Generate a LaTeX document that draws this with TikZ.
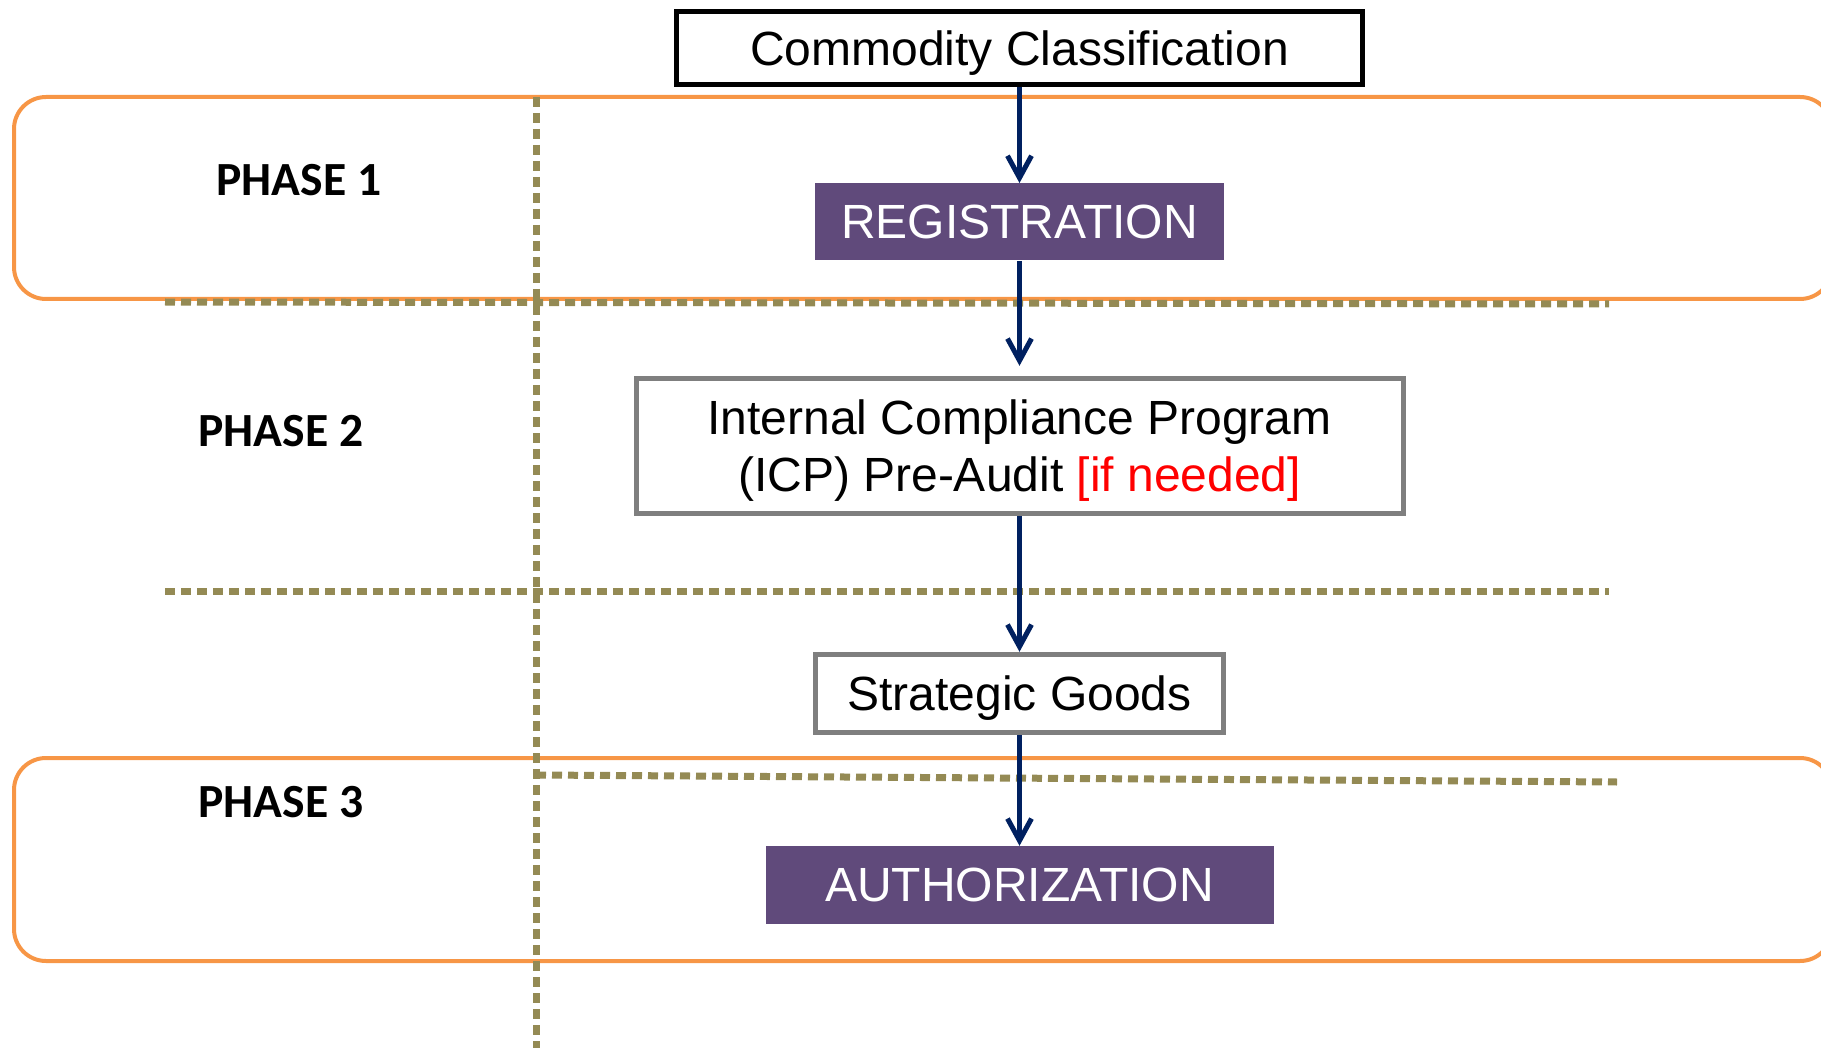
\documentclass[tikz,border=0pt]{standalone}
\usepackage{fontspec}
\setmainfont{Liberation Sans}
\newfontfamily\phasefont{Carlito}
\usetikzlibrary{arrows.meta, positioning}

\definecolor{phaseorange}{HTML}{F79646}
\definecolor{dotolive}{HTML}{948A54}
\definecolor{stagepurple}{HTML}{604A7B}
\definecolor{arrownavy}{HTML}{002060}
\definecolor{boxgray}{HTML}{7F7F7F}

\begin{document}
\begin{tikzpicture}[x=0.5pt, y=-0.5pt,
				block/.style={rectangle, draw, fill=white, align=center, line width=2.5pt, inner sep=0pt,
						text depth=0pt, font=\fontsize{24pt}{28.5pt}\selectfont},
				stage/.style={rectangle, fill=stagepurple, text=white, inner sep=0pt,
						font=\fontsize{24pt}{28.5pt}\selectfont},
				phase/.style={draw=phaseorange, line width=2pt, rounded corners=16pt},
				divider/.style={draw=dotolive, line width=3.5pt, dash pattern=on 5pt off 3pt},
				phaselabel/.style={font=\phasefont\bfseries\fontsize{23.8pt}{28pt}\selectfont},
				line/.style={draw=arrownavy, line width=2.5pt, -{Straight Barb[length=11pt, width=12pt]}}
			]
			\useasboundingbox (0,0) rectangle (1821,1048);

			\draw [phase] (14,97) rectangle (1832,299);
			\draw [phase] (14,758) rectangle (1832,961);

			\draw [divider] (536,97) -- (536,1048);
			\draw [divider] (165,302) -- (1609,304);
			\draw [divider] (165,591) -- (1609,591);
			\draw [divider] (536,775) -- (1617,782);

			\node [phaselabel] (phase1) at (299,180) {PHASE 1};
			\node [phaselabel] (phase2) at (281,431) {PHASE 2};
			\node [phaselabel] (phase3) at (281,802) {PHASE 3};

			\node [block, minimum width=343pt, minimum height=36.5pt] (block1) at (1019.5,48) {Commodity Classification};
			\node [stage, below=48pt of block1, minimum width=204.5pt, minimum height=38.5pt] (block2) {REGISTRATION};
			\node [block, draw=boxgray, below=57.5pt of block2, minimum width=383.5pt, minimum height=67.5pt] (block3) {Internal Compliance Program\\ (ICP) Pre-Audit {\color{red}[if needed]}};
			\node [block, draw=boxgray, below=68pt of block3, minimum width=204pt, minimum height=39pt] (block4) {Strategic Goods};
			\node [stage, below=55.5pt of block4, minimum width=254pt, minimum height=39pt] (block5) {AUTHORIZATION};

			\path [line] (block1) -- (block2);
			\path [line, shorten >=5pt] (block2) -- (block3);
			\path [line] (block3) -- (block4);
			\path [line] (block4) -- (block5);
		\end{tikzpicture}
\end{document}
